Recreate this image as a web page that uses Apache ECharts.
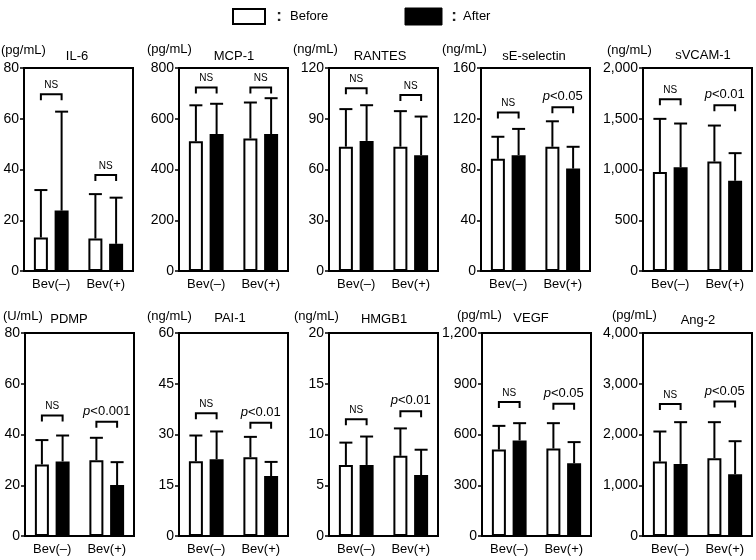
<!DOCTYPE html>
<html>
<head>
<meta charset="utf-8">
<script src="https://cdn.jsdelivr.net/npm/echarts@6/dist/echarts.min.js"></script>
<style>
html,body{margin:0;padding:0;background:#fff;}
#c{width:756px;height:560px;}
</style>
</head>
<body>
<div id="c"></div>
<script>
// ---------- DATA ----------
const panels = ['IL-6','MCP-1','RANTES','sE-selectin','sVCAM-1','PDMP','PAI-1','HMGB1','VEGF','Ang-2'];
const units = ['(pg/mL)','(pg/mL)','(ng/mL)','(ng/mL)','(ng/mL)','(U/mL)','(ng/mL)','(ng/mL)','(pg/mL)','(pg/mL)'];
const categories = ['Bev(\u2013)','Bev(+)'];
const yMax = [80,800,120,160,2000,80,60,20,1200,4000];
const yInterval = [20,200,30,40,500,20,15,5,300,1000];
// means (Before / After) for [Bev(-), Bev(+)]
const beforeMean = [[13.2,12.8],[511,522],[73.5,73.5],[88.4,97.9],[975,1078],[28.2,29.9],[22.1,23.3],[7.0,7.9],[511,517],[1467,1533]];
const afterMean  = [[23.8,10.7],[540,540],[76.9,68.4],[91.3,80.7],[1021,889],[29.4,20.1],[22.7,17.7],[7.0,6.0],[565,430],[1421,1217]];
// upper end of error bars
const beforeUpper = [[31.9,30.3],[653,664],[95.7,94.5],[105.8,118],[1499,1433],[37.8,38.7],[29.7,29.3],[9.2,10.6],[651,667],[2059,2243]];
const afterUpper  = [[62.8,28.9],[659,681],[98,91.3],[112,97.9],[1453,1161],[39.6,29.1],[30.9,21.9],[9.8,8.5],[667,555],[2243,1868]];
// significance brackets
const bracketY = [[69.7,37.8],[723,723],[108,104],[125,129],[1692,1632],[47.5,45],[36.3,33.5],[11.5,12.3],[792,782],[2600,2650]];
const bracketLabel = [['NS','NS'],['NS','NS'],['NS','NS'],['NS','p<0.05'],['NS','p<0.01'],['NS','p<0.001'],['NS','p<0.01'],['NS','p<0.01'],['NS','p<0.05'],['NS','p<0.05']];
const legendLabels = ['Before','After'];

// ---------- LAYOUT ----------
const FONT = "'Liberation Sans', Arial, Helvetica, sans-serif";
const gridLeft = [24,179,329,481,643,25,179,329,482,643];
const gridTop = [68,68,68,68,68,333,333,333,333,333];
const GRID_W = 109, GRID_H = 203;
const titleX = [77,234,380,534,703,69,230,384,531,698];
const titleY = [56,56,56,56,55,319,318,319,318,320];
const unitX = [1,147,293,442,607,3,147,294,457,612];
const unitY = [50,49,49,49,50,316,316,316,315,315];
const BAR_W = 14, BAR_GAP = 0.48;
const OFF = BAR_W * (1 + BAR_GAP) / 2;

function comma(v){ return String(v).replace(/\B(?=(\d{3})+(?!\d))/g, ','); }

const grids = [], xAxes = [], yAxes = [], series = [], graphics = [];

panels.forEach((name, i) => {
  grids.push({left: gridLeft[i], top: gridTop[i], width: GRID_W, height: GRID_H,
    show: true, borderColor: '#000', borderWidth: 2, backgroundColor: 'transparent', containLabel: false});
  xAxes.push({type: 'category', gridIndex: i, data: categories,
    axisLine: {show: true, lineStyle: {color: '#000', width: 2}},
    axisTick: {show: false},
    axisLabel: {color: '#000', fontSize: 13, fontFamily: FONT, margin: 7, interval: 0}});
  yAxes.push({type: 'value', gridIndex: i, min: 0, max: yMax[i], interval: yInterval[i],
    splitLine: {show: false},
    axisLine: {show: true, lineStyle: {color: '#000', width: 2}},
    axisTick: {show: true, length: 4, lineStyle: {color: '#000', width: 1.5}},
    axisLabel: {color: '#000', fontSize: 14, fontFamily: FONT, margin: 5, formatter: v => comma(v)}});
  series.push({type: 'bar', xAxisIndex: i, yAxisIndex: i, data: beforeMean[i], barWidth: BAR_W, barGap: (BAR_GAP*100)+'%',
    itemStyle: {color: '#fff', borderColor: '#000', borderWidth: 2}, z: 2, silent: true});
  series.push({type: 'bar', xAxisIndex: i, yAxisIndex: i, data: afterMean[i], barWidth: BAR_W, barGap: (BAR_GAP*100)+'%',
    itemStyle: {color: '#000', borderColor: '#000', borderWidth: 2}, z: 2, silent: true});
  // error bars
  const errData = [];
  for (let c = 0; c < 2; c++) {
    errData.push([c, beforeMean[i][c], beforeUpper[i][c], -1]);
    errData.push([c, afterMean[i][c], afterUpper[i][c], 1]);
  }
  series.push({type: 'custom', xAxisIndex: i, yAxisIndex: i, data: errData, z: 3, silent: true,
    renderItem: (params, api) => {
      const p0 = api.coord([api.value(0), api.value(1)]);
      const p1 = api.coord([api.value(0), api.value(2)]);
      const x = p0[0] + api.value(3) * OFF;
      const st = {stroke: '#000', lineWidth: 2};
      return {type: 'group', children: [
        {type: 'line', shape: {x1: x, y1: p0[1], x2: x, y2: p1[1]}, style: st},
        {type: 'line', shape: {x1: x - 6.5, y1: p1[1], x2: x + 6.5, y2: p1[1]}, style: st}
      ]};
    }});
  // brackets
  const brData = [[0, bracketY[i][0], 0], [1, bracketY[i][1], 1]];
  series.push({type: 'custom', xAxisIndex: i, yAxisIndex: i, data: brData, z: 4, silent: true,
    renderItem: (params, api) => {
      const c = api.value(0);
      const p = api.coord([c, api.value(1)]);
      const lab = bracketLabel[i][api.value(2)];
      const isP = lab.charAt(0) === 'p';
      const fs = isP ? 13 : 10;
      const txt = isP ? '{i|p}' + lab.slice(1) : lab;
      const st = {stroke: '#000', lineWidth: 2, fill: null};
      const x1 = p[0] - OFF, x2 = p[0] + OFF, y = p[1];
      return {type: 'group', children: [
        {type: 'polyline', shape: {points: [[x1, y + 6], [x1, y], [x2, y], [x2, y + 6]]}, style: st},
        {type: 'text', style: {text: txt, x: p[0], y: y - 4 - fs/2, align: 'center', verticalAlign: 'middle',
          fontSize: fs, fontFamily: FONT, fill: '#000',
          rich: {i: {fontStyle: 'italic', fontSize: fs, fontFamily: FONT, fill: '#000'}}}}
      ]};
    }});
  // titles and units
  graphics.push({type: 'text', x: titleX[i], y: titleY[i], style: {text: name, font: '13px ' + FONT, fill: '#000', align: 'center', verticalAlign: 'middle'}});
  graphics.push({type: 'text', x: unitX[i], y: unitY[i], style: {text: units[i], font: '13px ' + FONT, fill: '#000', align: 'left', verticalAlign: 'middle'}});
});

// legend
graphics.push({type: 'rect', shape: {x: 233, y: 9, width: 32, height: 15}, style: {fill: '#fff', stroke: '#000', lineWidth: 2}});
graphics.push({type: 'text', x: 279, y: 16, style: {text: ':', font: 'bold 17px ' + FONT, fill: '#222', align: 'center', verticalAlign: 'middle'}});
graphics.push({type: 'text', x: 290, y: 16, style: {text: legendLabels[0], font: '13px ' + FONT, fill: '#000', align: 'left', verticalAlign: 'middle'}});
graphics.push({type: 'rect', shape: {x: 405, y: 8, width: 37, height: 17}, style: {fill: '#000', stroke: '#000', lineWidth: 1}});
graphics.push({type: 'text', x: 454, y: 16, style: {text: ':', font: 'bold 17px ' + FONT, fill: '#222', align: 'center', verticalAlign: 'middle'}});
graphics.push({type: 'text', x: 463, y: 16, style: {text: legendLabels[1], font: '13px ' + FONT, fill: '#000', align: 'left', verticalAlign: 'middle'}});

const chart = echarts.init(document.getElementById('c'), null, {renderer: 'canvas'});
chart.setOption({
  animation: false,
  backgroundColor: '#fff',
  textStyle: {fontFamily: FONT},
  grid: grids, xAxis: xAxes, yAxis: yAxes, series: series, graphic: graphics
});
</script>
</body>
</html>
